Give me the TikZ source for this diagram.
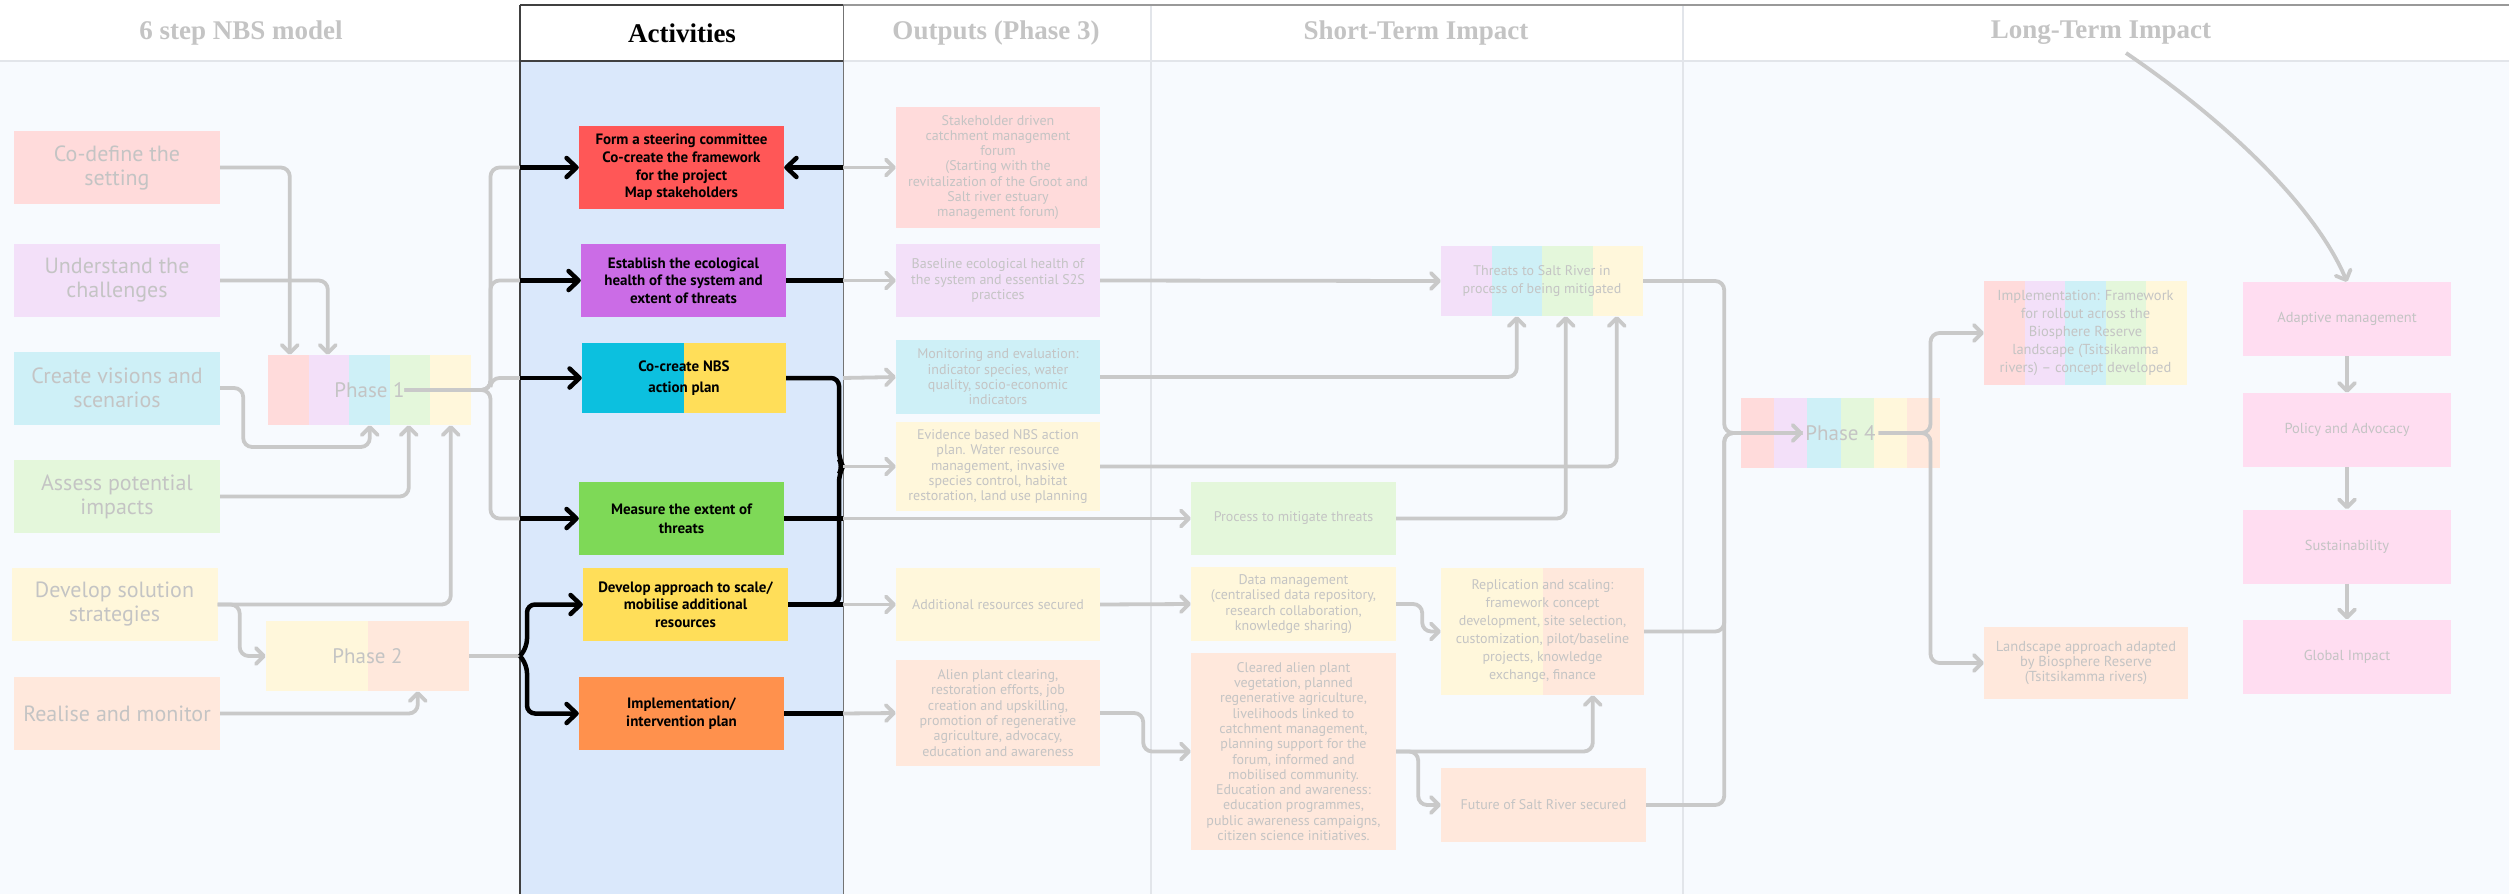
\documentclass[tikz,border=0pt]{standalone}
\usepackage{fontspec}
\setsansfont{PT Sans}
\newfontfamily\headfont{Liberation Serif}
\usetikzlibrary{arrows.meta}
\definecolor{pagebg}{RGB}{247,250,254}
\definecolor{actbg}{RGB}{218,232,251}
\definecolor{fadetxt}{RGB}{196,196,196}
\definecolor{linegray}{RGB}{201,201,201}
\definecolor{softgray}{RGB}{226,229,234}
\definecolor{pred}{RGB}{255,219,219}
\definecolor{ppurple}{RGB}{243,224,249}
\definecolor{pcyan}{RGB}{206,240,247}
\definecolor{pgreen}{RGB}{228,247,219}
\definecolor{pyellow}{RGB}{255,247,219}
\definecolor{porange}{RGB}{255,232,220}
\definecolor{ppink}{RGB}{255,221,241}
\definecolor{sred}{RGB}{255,87,87}
\definecolor{spurple}{RGB}{203,108,230}
\definecolor{scyan}{RGB}{12,192,223}
\definecolor{syellow}{RGB}{255,222,89}
\definecolor{sgreen}{RGB}{126,217,87}
\definecolor{sorange}{RGB}{255,145,77}
\tikzset{
  stepbox/.style  = {rectangle, minimum width=206pt, minimum height=73pt,
                     align=center, text=fadetxt,
                     font=\sffamily\fontsize{22}{24}\selectfont},
  actbox/.style   = {rectangle, minimum width=205pt, minimum height=73pt,
                     align=center, text=black,
                     font=\sffamily\bfseries\fontsize{15}{17.7}\selectfont},
  outbox/.style   = {rectangle, minimum width=204pt, align=center, text=fadetxt,
                     font=\sffamily\fontsize{14}{15.3}\selectfont},
  shortbox/.style = {outbox, minimum width=205pt,
                     font=\sffamily\fontsize{14}{18}\selectfont},
  longbox/.style  = {outbox, font=\sffamily\fontsize{14.5}{18}\selectfont},
  pinkbox/.style  = {longbox, fill=ppink, minimum width=208pt, minimum height=74pt},
  phasebox/.style = {rectangle, minimum width=203pt, minimum height=70pt,
                     text=fadetxt, font=\sffamily\fontsize{21}{24}\selectfont},
  headtxt/.style  = {text=fadetxt, font=\headfont\bfseries\fontsize{27}{30}\selectfont},
  gline/.style    = {draw=linegray, line width=3.8pt, rounded corners=9pt},
  garrow/.style   = {gline, -{Straight Barb[length=8pt,width=16pt,round]}},
  bline/.style    = {draw=black, line width=4.5pt, rounded corners=9pt},
  barrow/.style   = {bline, -{Straight Barb[length=10pt,width=19pt,round]}},
  softrule/.style = {draw=softgray, line width=2pt},
  darkrule/.style = {draw=black!75, line width=1.5pt}
}

\begin{document}
\begin{tikzpicture}[x=1pt, y=-1pt]
  % page, columns and header
  \useasboundingbox (0,0) rectangle (2509,894);
  \fill[white] (0,0) rectangle (2509,61);
  \fill[pagebg] (0,61) rectangle (2509,894);
  \fill[actbg] (520,61) rectangle (843,894);
  \draw[softrule] (0,61) -- (2509,61);
  \draw[softrule] (1151,5) -- (1151,894);
  \draw[softrule] (1683,5) -- (1683,894);
  \draw[draw=black!40, line width=1.5pt] (843,5) -- (2509,5);
  \draw[darkrule] (520,5) -- (843,5);
  \draw[darkrule] (520,61) -- (843,61);
  \draw[darkrule] (520,5) -- (520,894);
  \draw[draw=black!55, line width=1pt] (843,5) -- (843,894);

  \node[headtxt] (hmodel) at (241,33) {6 step NBS model};
  \node[headtxt, text=black] (hact) at (682,33) {Activities};
  \node[headtxt] (hout) at (996,33) {Outputs (Phase 3)};
  \node[headtxt] (hshort) at (1416,33) {Short-Term Impact};
  \node[headtxt] (hlong) at (2101,33) {Long-Term Impact};

  % stripes behind the phase boxes
  \foreach \c [count=\i from 0] in {pred,ppurple,pcyan,pgreen,pyellow}
    \fill[\c] (268+\i*40.6,355) rectangle ++(40.6,70);
  \fill[pyellow] (266,621) rectangle (368,691);
  \fill[porange] (368,621) rectangle (469,691);
  \fill[scyan] (582,343) rectangle (684,413);
  \fill[syellow] (684,343) rectangle (786,413);
  \foreach \c [count=\i from 0] in {ppurple,pcyan,pgreen,pyellow}
    \fill[\c] (1441+\i*50.5,246) rectangle ++(50.5,70);
  \fill[pyellow] (1441,568) rectangle (1543,695);
  \fill[porange] (1543,568) rectangle (1644,695);
  \foreach \c [count=\i from 0] in {pred,ppurple,pcyan,pgreen,pyellow,porange}
    \fill[\c] (1741+\i*33.17,398) rectangle ++(33.17,70);
  \foreach \c [count=\i from 0] in {pred,ppurple,pcyan,pgreen,pyellow}
    \fill[\c] (1984+\i*40.6,281) rectangle ++(40.6,104);

  % 6 step NBS model
  \node[stepbox, fill=pred] (codefine) at (117,167.5) {Co-define the\\setting};
  \node[stepbox, fill=ppurple] (understand) at (117,280.5) {Understand the\\challenges};
  \node[stepbox, fill=pcyan] (visions) at (117,388) {Create visions and\\scenarios};
  \node[stepbox, fill=pgreen] (assess) at (117,496.5) {Assess potential\\impacts};
  \node[stepbox, fill=pyellow] (develop) at (114.5,604.5) {Develop solution\\strategies};
  \node[stepbox, fill=porange] (realise) at (117,713.5) {Realise and monitor};
  \node[phasebox] (phaseone) at (369.5,390) {Phase 1};
  \node[phasebox] (phasetwo) at (367.5,656) {Phase 2};

  % activities
  \node[actbox, fill=sred, minimum height=83pt] (form) at (681.5,167.5)
    {Form a steering committee\\Co-create the framework\\for the project\\Map stakeholders};
  \node[actbox, fill=spurple] (establish) at (683.5,280.5)
    {Establish the ecological\\health of the system and\\extent of threats};
  \node[actbox, minimum width=204pt, minimum height=70pt,
        font=\sffamily\bfseries\fontsize{15}{21}\selectfont] (cocreate) at (684,378)
    {Co-create NBS\\action plan};
  \node[actbox, fill=sgreen, font=\sffamily\bfseries\fontsize{15}{19}\selectfont]
    (measure) at (681.5,518.5) {Measure the extent of\\threats};
  \node[actbox, fill=syellow] (scale) at (685.5,604.5)
    {Develop approach to scale/\\mobilise additional\\resources};
  \node[actbox, fill=sorange] (implement) at (681.5,713.5)
    {Implementation/\\intervention plan};

  % outputs
  \node[outbox, fill=pred, minimum height=121pt] (forum) at (998,167.5)
    {Stakeholder driven\\catchment management\\forum\\(Starting with the\\revitalization of the Groot and\\Salt river estuary\\management forum)};
  \node[outbox, fill=ppurple, minimum height=73pt] (baseline) at (998,280.5)
    {Baseline ecological health of\\the system and essential S2S\\practices};
  \node[outbox, fill=pcyan, minimum height=74pt] (monitoring) at (998,377)
    {Monitoring and evaluation:\\indicator species, water\\quality, socio-economic\\indicators};
  \node[outbox, fill=pyellow, minimum height=89pt] (evidence) at (998,466.5)
    {Evidence based NBS action\\plan. Water resource\\management, invasive\\species control, habitat\\restoration, land use planning};
  \node[outbox, fill=pyellow, minimum height=73pt] (resources) at (998,604.5)
    {Additional resources secured};
  \node[outbox, fill=porange, minimum height=106pt] (alien) at (998,713)
    {Alien plant clearing,\\restoration efforts, job\\creation and upskilling,\\promotion of regenerative\\agriculture, advocacy,\\education and awareness};

  % short-term impact
  \node[shortbox, minimum width=202pt, minimum height=70pt] (threats) at (1542,281)
    {Threats to Salt River in\\process of being mitigated};
  \node[shortbox, fill=pgreen, minimum height=73pt] (process) at (1293.5,518.5)
    {Process to mitigate threats};
  \node[outbox, fill=pyellow, minimum width=205pt, minimum height=74pt] (datamgmt) at (1293.5,604)
    {Data management\\(centralised data repository,\\research collaboration,\\knowledge sharing)};
  \node[outbox, fill=porange, minimum width=205pt, minimum height=197pt] (cleared) at (1293.5,751.5)
    {Cleared alien plant\\vegetation, planned\\regenerative agriculture,\\livelihoods linked to\\catchment management,\\planning support for the\\forum, informed and\\mobilised community.\\Education and awareness:\\education programmes,\\public awareness campaigns,\\citizen science initiatives.};
  \node[shortbox, minimum width=203pt, minimum height=127pt] (replication) at (1542.5,631.5)
    {Replication and scaling:\\framework concept\\development, site selection,\\customization, pilot/baseline\\projects, knowledge\\exchange, finance};
  \node[shortbox, fill=porange, minimum height=74pt] (future) at (1543.5,805)
    {Future of Salt River secured};

  % long-term impact
  \node[phasebox, minimum width=199pt] (phasefour) at (1840.5,433) {Phase 4};
  \node[longbox, minimum width=203pt, minimum height=104pt] (rollout) at (2085.5,333)
    {Implementation: Framework\\for rollout across the\\Biosphere Reserve\\landscape (Tsitsikamma\\rivers) – concept developed};
  \node[longbox, fill=porange, minimum height=72pt,
        font=\sffamily\fontsize{14.5}{15.3}\selectfont] (landscape) at (2086,663)
    {Landscape approach adapted\\by Biosphere Reserve\\(Tsitsikamma rivers)};
  \node[pinkbox] (adaptive) at (2347,319) {Adaptive management};
  \node[pinkbox] (policy) at (2347,430) {Policy and Advocacy};
  \node[pinkbox] (sustain) at (2347,546.5) {Sustainability};
  \node[pinkbox] (globalimp) at (2347,656.5) {Global Impact};

  % ends of connectors on the activity column
  \coordinate (p1) at ([xshift=35pt]phaseone.center);
  \coordinate (a1) at (520,167.5);
  \coordinate (a2) at (520,280.5);
  \coordinate (a3) at (520,378);
  \coordinate (a4) at (520,518.5);
  \coordinate (b2) at (520,656);
  \coordinate (c1) at (843,167.5);
  \coordinate (c2) at (843,280.5);
  \coordinate (c3) at (843,378);
  \coordinate (c4) at (843,466.5);
  \coordinate (c5) at (843,518.5);
  \coordinate (c6) at (843,604.5);
  \coordinate (c7) at (843,713.5);
  \coordinate (p4in) at ([xshift=-38pt]phasefour.center);
  \coordinate (p4out) at ([xshift=38pt]phasefour.center);

  % steps into phases
  \draw[garrow] (codefine.east) -| ([xshift=22pt]phaseone.north west);
  \draw[garrow] (understand.east) -| ([xshift=60pt]phaseone.north west);
  \draw[garrow] (visions.east) -- ++(23,0) -- ++(0,59) -| ([xshift=102pt]phaseone.south west);
  \draw[garrow] (assess.east) -| ([xshift=141pt]phaseone.south west);
  \draw[garrow] (develop.east) -| ([xshift=183pt]phaseone.south west);
  \draw[garrow] (develop.east) -- ++(22,0) |- (phasetwo.west);
  \draw[garrow] (realise.east) -| ([xshift=152pt]phasetwo.south west);

  % phases into activities
  \foreach \t in {a1,a2,a3,a4}
    \draw[gline] (p1) -- ++(86,0) |- (\t);
  \draw[gline] (phasetwo.east) -- (b2);
  \draw[barrow] (a1) -- (form.west);
  \draw[barrow] (a2) -- (establish.west);
  \draw[barrow] (a3) -- (cocreate.west);
  \draw[barrow] (a4) -- (measure.west);
  \draw[barrow, rounded corners=8pt] (b2) -- (527,647) -- (527,604.5) -- (scale.west);
  \draw[barrow, rounded corners=8pt] (b2) -- (527,665) -- (527,713.5) -- (implement.west);

  % activities into outputs
  \draw[barrow] (c1) -- (form.east);
  \draw[bline] (establish.east) -- (c2);
  \draw[bline, rounded corners=8pt] (cocreate.east) -- (839,378) -- (839,459) -- (c4)
    -- (839,474) -- (839,604.5) -- (scale.east);
  \draw[bline] (measure.east) -- (c5);
  \draw[bline] (scale.east) -- (c6);
  \draw[bline] (implement.east) -- (c7);
  \draw[garrow] (c1) -- (forum.west);
  \draw[garrow] (c2) -- (baseline.west);
  \draw[garrow] (c3) -- (monitoring.west);
  \draw[garrow] (c4) -- (evidence.west);
  \draw[garrow] (c5) -- (process.west);
  \draw[garrow] (c6) -- (resources.west);
  \draw[garrow] (c7) -- (alien.west);

  % outputs into short-term impact
  \draw[garrow] (baseline.east) -- (threats.west);
  \draw[garrow] (monitoring.east) -| ([xshift=76pt]threats.south west);
  \draw[garrow] (process.east) -| ([xshift=125pt]threats.south west);
  \draw[garrow] (evidence.east) -| ([xshift=176pt]threats.south west);
  \draw[garrow] (resources.east) -- (datamgmt.west);
  \draw[garrow] (alien.east) -- ++(43,0) |- (cleared.west);
  \draw[garrow] (datamgmt.east) -- ++(26,0) |- (replication.west);
  \draw[garrow] (cleared.east) -| ([xshift=152pt]replication.south west);
  \draw[garrow] (cleared.east) -- ++(22,0) |- (future.west);

  % short-term into phase 4
  \draw[gline] (replication.east) -- ++(80,0) |- (p4in);
  \draw[gline] (future.east) -- ++(78,0) |- (p4in);
  \draw[garrow] (threats.east) -- ++(81,0) |- (p4in);
  \draw[garrow] (p4out) -- ++(52,0) |- (rollout.west);
  \draw[garrow] (p4out) -- ++(52,0) |- (landscape.west);

  % long-term chain
  \draw[garrow] ([xshift=25pt,yshift=-20pt]hlong.center)
    .. controls (2236,128) and (2317,211) .. (adaptive.north);
  \draw[garrow] (adaptive.south) -- (policy.north);
  \draw[garrow] (policy.south) -- (sustain.north);
  \draw[garrow] (sustain.south) -- (globalimp.north);
\end{tikzpicture}
\end{document}
